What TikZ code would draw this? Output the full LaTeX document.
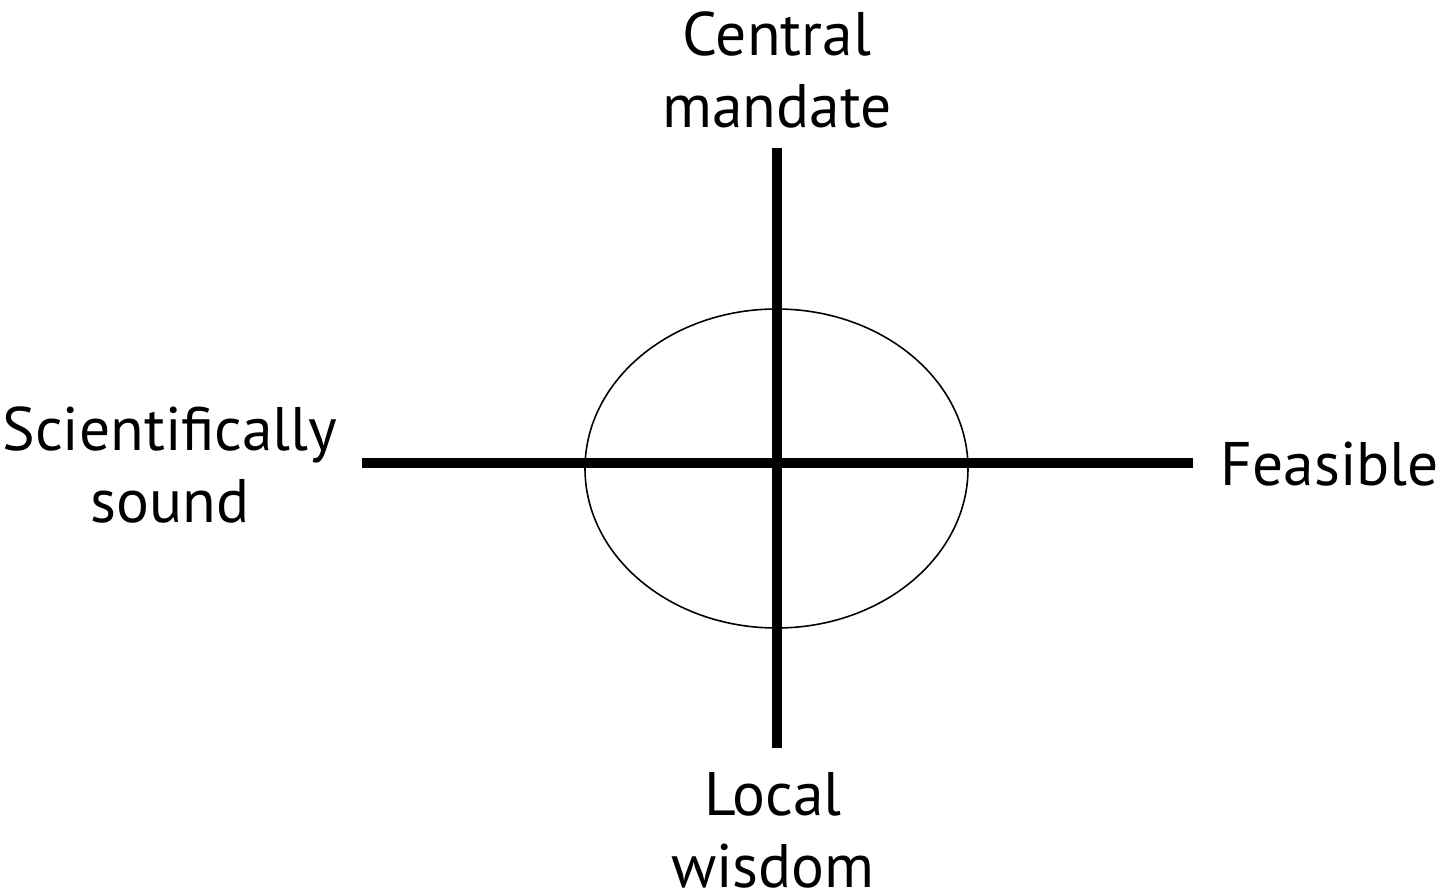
\documentclass[tikz,border=0pt]{standalone}
\usepackage{fontspec}
\setmainfont{PT Sans}
\usetikzlibrary{positioning}

\begin{document}
\begin{tikzpicture}[every node/.style={font=\fontsize{17.5}{20.5}\selectfont, inner sep=0pt},
    axis/.style={line width=2.6pt},
    pole/.style={align=center}]
    \useasboundingbox (0,0) rectangle (14.37,-8.95);

    % Ends of the two axes
    \coordinate (top) at (7.77,-1.48);
    \coordinate (bottom) at (7.77,-7.48);
    \coordinate (west) at (3.62,-4.63);
    \coordinate (east) at (11.93,-4.63);

    % Ellipse round the crossing
    \draw[line width=0.45pt] (7.765,-4.685) ellipse [x radius=1.915, y radius=1.595];

    % Axes
    \draw[axis] (top) -- (bottom);
    \draw[axis] (west) -- (east);

    % Labels at the four poles
    \node[pole] (central) at (7.77,-0.70) {Central\\mandate};
    \node[pole] (local) at (7.73,-8.30) {Local\\wisdom};
    \node[pole] (science) at (1.70,-4.65) {Scientifically\\sound};
    \node[anchor=base west] (feasible) at (12.20,-4.85) {Feasible};

\end{tikzpicture}
\end{document}
